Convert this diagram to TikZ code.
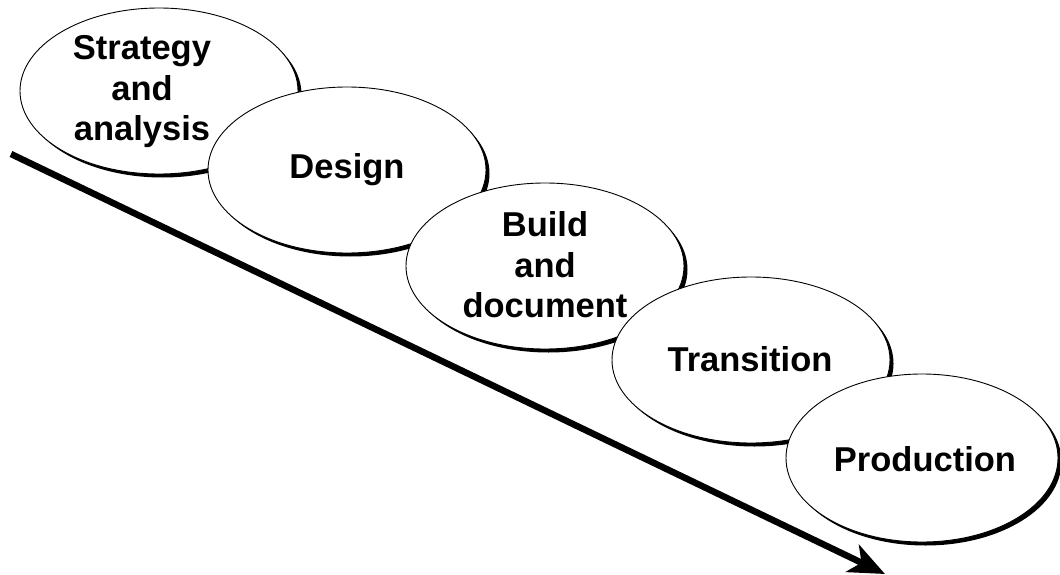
\documentclass[tikz,border=0pt]{standalone}
\usepackage{fontspec}
\setmainfont{Liberation Sans}
\usetikzlibrary{shapes.geometric,shadows,arrows.meta}
\begin{document}
\begin{tikzpicture}[x=1pt,y=-1pt,
  phase/.style={ellipse, draw=black, line width=0.9pt, fill=white, inner sep=0pt,
    minimum width=278pt, minimum height=166pt,
    drop shadow={shadow xshift=3.5pt, shadow yshift=-3.5pt, fill=black, opacity=1}},
  lbl/.style={font=\fontsize{34.5}{40.5}\selectfont\bfseries, align=center, inner sep=0pt},
  flow/.style={line width=6.5pt, -{Stealth[length=36pt, width=30pt, inset=10pt]}}]
\useasboundingbox (0,0) rectangle (1060,575);
\coordinate (s) at (11,154);
\coordinate (e) at (885,574);
\draw[flow] (s) -- (e);
\node[phase] (p1) at (159,91) {};
\node[lbl] (t1) at (142,92) {Strategy\\and\\analysis};
\node[phase] (p2) at (347,170) {};
\node[lbl] (t2) at (347,170) {Design};
\node[phase] (p3) at (545,266) {};
\node[lbl] (t3) at (545,265) {Build\\and\\document};
\node[phase] (p4) at (751,360) {};
\node[lbl] (t4) at (750,359) {Transition};
\node[phase, minimum width=272pt, minimum height=168pt] (p5) at (922,458) {};
\node[lbl] (t5) at (925,459) {Production};
\end{tikzpicture}
\end{document}
